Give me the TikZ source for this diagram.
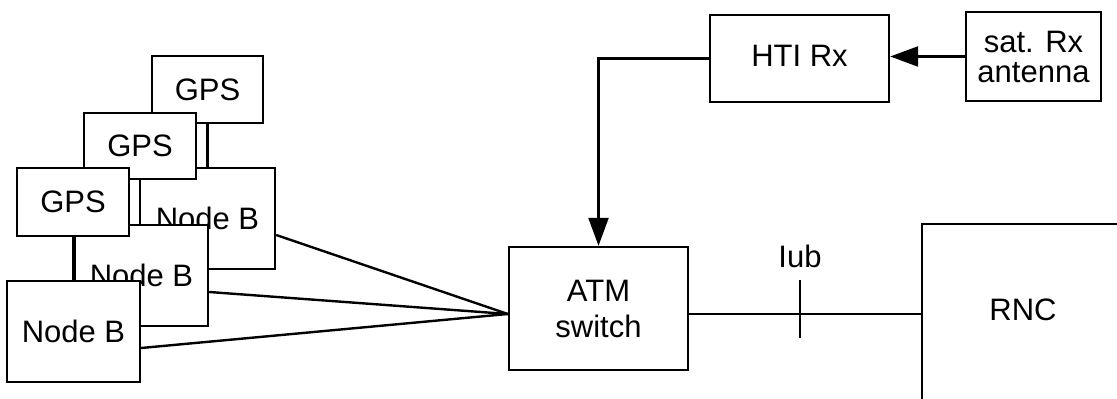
\documentclass[tikz,border=0pt]{standalone}
\usepackage{fontspec}
\setmainfont{Liberation Sans}
\usetikzlibrary{arrows.meta,calc}
\begin{document}
\begin{tikzpicture}[x=0.5pt,y=-0.5pt, line width=1.2pt,
  box/.style={draw, fill=white, inner sep=0pt, align=center, font=\fontsize{15.5}{18}\selectfont},
  lbl/.style={inner sep=0pt, font=\fontsize{15.5}{18}\selectfont},
  arr/.style={-{Triangle[length=14pt,width=10pt]}}]
\useasboundingbox (0,0) rectangle (1117,399);
% back Node B with GPS
\node[box, minimum width=67.5pt, minimum height=50.5pt] (nb3) at (207.5,218.5) {Node B};
\node[box, minimum width=55.5pt, minimum height=33.5pt] (gps3) at (207.5,89.5) {GPS};
\draw (gps3.south) -- (nb3.north);
% middle
\node[box, minimum width=56pt, minimum height=33pt] (gps2) at (140,146) {GPS};
\node[box, minimum width=66.5pt, minimum height=50.5pt] (nb2) at (141.5,275.5) {Node B};
\draw (gps2.south) -- (gps2.south |- nb2.north);
% front
\node[box, minimum width=56pt, minimum height=34pt] (gps1) at (73,202) {GPS};
\node[box, minimum width=66.5pt, minimum height=50.5pt] (nb1) at (73.5,331.5) {Node B};
\draw (gps1.south) -- (gps1.south |- nb1.north);
% ATM switch
\node[box, minimum width=89.5pt, minimum height=61.5pt] (atm) at (598.5,308.5) {ATM\\switch};
\coordinate (atmin) at ([yshift=-2.75pt]atm.west);
\draw ([yshift=-8.25pt]nb3.east) -- (atmin);
\draw ([yshift=-8.25pt]nb2.east) -- (atmin);
\draw ([yshift=-8.25pt]nb1.east) -- (atmin);
% HTI Rx and antenna
\node[box, minimum width=89.5pt, minimum height=43.5pt, text depth=3pt] (hti) at (799.5,58.5) {HTI Rx};
\node[box, minimum width=67.5pt, minimum height=44.5pt, font=\fontsize{15.5}{15}\selectfont] (sat) at (1033.5,56.5) {sat. Rx\\antenna};
\draw[arr] (sat.west) -- (sat.west -| hti.east);
\draw[arr] (hti.west) -| (atm.north);
% RNC
\coordinate (rncin) at (922,314);
\coordinate (rncbl) at (922,399);
\coordinate (rnctl) at (922,224);
\coordinate (rnctr) at (1117,224);
\draw (rncbl) -- (rnctl) -- (rnctr);
\node[lbl] (rnc) at (1023,310) {RNC};
\draw (atmin -| atm.east) -- (rncin);
% Iub
\coordinate (iubtop) at (800,280);
\coordinate (iubbot) at (800,338);
\draw (iubtop) -- (iubbot);
\node[lbl] (iub) at (800,256) {Iub};
\end{tikzpicture}
\end{document}
